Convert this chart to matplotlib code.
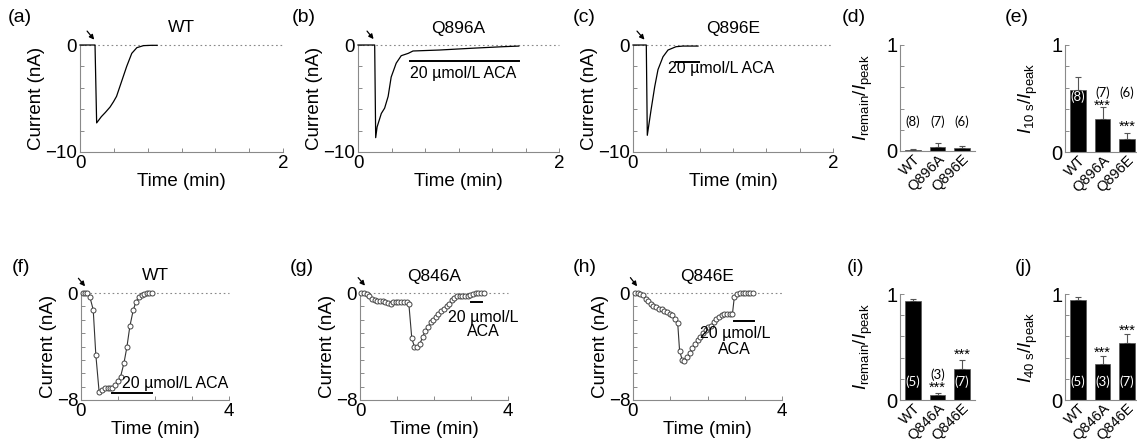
import matplotlib.pyplot as plt

plt.rcParams['font.family'] = ['Liberation Sans', 'DejaVu Sans']
plt.rcParams['mathtext.fontset'] = 'custom'
plt.rcParams['mathtext.rm'] = 'Liberation Sans'
plt.rcParams['mathtext.it'] = 'Liberation Sans:italic'

# ---- data ----
# top row: continuous current traces (min, nA)
a_t = [0.0, 0.148, 0.164, 0.21, 0.25, 0.296, 0.33, 0.36, 0.41, 0.46, 0.51, 0.56, 0.625, 0.70, 0.76]
a_i = [0.0, 0.0, -7.28, -6.7, -6.3, -5.8, -5.3, -4.8, -3.4, -2.0, -0.78, -0.25, -0.06, -0.03, -0.03]

b_t = [0.0, 0.166, 0.176, 0.19, 0.232, 0.265, 0.30, 0.33, 0.38, 0.43, 0.50, 0.547, 0.81, 1.14, 1.44, 1.6]
b_i = [0.0, 0.0, -8.66, -7.66, -6.4, -5.9, -4.8, -3.0, -1.7, -1.0, -0.78, -0.56, -0.47, -0.3, -0.16, -0.1]

c_t = [0.0, 0.133, 0.143, 0.18, 0.217, 0.25, 0.30, 0.35, 0.43, 0.50, 0.65]
c_i = [0.0, 0.0, -8.44, -6.1, -3.9, -2.3, -1.1, -0.47, -0.16, -0.1, -0.1]

# bottom row: sampled currents (min, nA)
f_t = [0.045, 0.11, 0.17, 0.24, 0.33, 0.40, 0.49, 0.58, 0.65, 0.72, 0.79, 0.85, 0.93,
       1.00, 1.07, 1.16, 1.24, 1.32, 1.41, 1.48, 1.56, 1.64, 1.71, 1.78, 1.85, 1.92]
f_i = [0, 0, 0, -0.3, -1.25, -4.6, -7.4, -7.25, -7.1, -7.1, -7.1, -7.08, -6.9,
       -6.6, -6.25, -5.25, -4.05, -2.5, -1.3, -0.7, -0.3, -0.12, -0.05, 0, 0, 0]

g_t = [0.03, 0.11, 0.18, 0.25, 0.32, 0.40, 0.47, 0.54, 0.61, 0.68, 0.76, 0.83, 0.90,
       0.97, 1.04, 1.11, 1.19, 1.26, 1.32, 1.40, 1.47, 1.55, 1.62, 1.69, 1.76, 1.83,
       1.91, 1.98, 2.05, 2.12, 2.19, 2.27, 2.34, 2.41, 2.48, 2.55, 2.62, 2.70, 2.77,
       2.84, 2.91, 2.98, 3.06, 3.13, 3.20, 3.27, 3.34]
g_i = [0, 0, -0.05, -0.25, -0.43, -0.55, -0.6, -0.6, -0.6, -0.68, -0.75, -0.8, -0.7,
       -0.7, -0.7, -0.68, -0.65, -0.7, -0.8, -3.4, -4.0, -4.05, -3.8, -3.3, -2.85, -2.55,
       -2.2, -2.0, -1.78, -1.55, -1.35, -1.18, -1.0, -0.8, -0.55, -0.35, -0.25, -0.2, -0.2,
       -0.2, -0.2, -0.18, -0.05, 0, 0, 0, 0]

h_t = [0.06, 0.125, 0.2, 0.27, 0.34, 0.41, 0.48, 0.55, 0.63, 0.70, 0.77, 0.84, 0.91,
       0.98, 1.06, 1.13, 1.2, 1.25, 1.32, 1.38, 1.45, 1.52, 1.59, 1.66, 1.74, 1.81,
       1.88, 1.95, 2.02, 2.09, 2.17, 2.24, 2.31, 2.38, 2.45, 2.52, 2.6, 2.67, 2.72,
       2.79, 2.86, 2.94, 3.0, 3.08, 3.15, 3.22]
h_i = [0, 0, -0.05, -0.18, -0.43, -0.6, -0.8, -0.95, -1.05, -1.18, -1.23, -1.35, -1.43,
       -1.55, -1.68, -1.93, -2.25, -4.3, -5.0, -5.05, -4.8, -4.5, -4.1, -3.85, -3.55, -3.3,
       -3.0, -2.75, -2.55, -2.43, -2.18, -1.93, -1.8, -1.68, -1.6, -1.55, -1.55, -1.55, -0.3,
       -0.05, 0, 0, 0, 0, 0, 0]

# ACA application bars (start, end, level)
b_aca = [0.52, 1.6, -1.5]
c_aca = [0.43, 0.66, -1.6]
f_aca = [0.85, 1.93, -7.5]
g_aca = [3.0, 3.3, -0.68]
h_aca = [2.72, 3.24, -2.1]

# bar summaries
grp_896 = ['WT', 'Q896A', 'Q896E']
grp_846 = ['WT', 'Q846A', 'Q846E']
d_val = [0.01, 0.035, 0.025]
d_err = [0.01, 0.04, 0.018]
d_n = ['(8)', '(7)', '(6)']
e_val = [0.575, 0.31, 0.125]
e_err = [0.13, 0.11, 0.055]
e_n = ['(8)', '(7)', '(6)']
i_val = [0.93, 0.045, 0.29]
i_err = [0.02, 0.02, 0.09]
i_n = ['(5)', '(3)', '(7)']
j_val = [0.94, 0.34, 0.54]
j_err = [0.03, 0.075, 0.08]
j_n = ['(5)', '(3)', '(7)']

W, H = 1137, 445
fig = plt.figure(figsize=(W / 100, H / 100), dpi=100)
AXC = '#8a8a8a'


def rect(x0, x1, ytop, ybot):
    return [x0 / W, 1 - ybot / H, (x1 - x0) / W, (ybot - ytop) / H]


def style(ax):
    for s in ['top', 'right']:
        ax.spines[s].set_visible(False)
    for s in ['left', 'bottom']:
        ax.spines[s].set_color(AXC)
        ax.spines[s].set_linewidth(0.8)
    ax.tick_params(direction='in', length=3, width=0.7, color=AXC,
                   labelsize=13.5, pad=2)


def trace_panel(r, t, cur, xmax, ymin, xticks, yticks, title, aca, arrow,
                circles=False):
    ax = fig.add_axes(r)
    style(ax)
    ax.set_xlim(0, xmax)
    ax.set_ylim(ymin, 0)
    ax.plot([0, xmax], [0, 0], color='#888888', lw=0.8, ls=(0, (1.5, 2.5)),
            clip_on=False, zorder=1)
    if circles:
        ax.plot(t, cur, '-o', color='#333333', lw=0.8, ms=3.6, mfc='white',
                mec='#444444', mew=0.7, clip_on=False, zorder=3)
    else:
        ax.plot(t, cur, color='black', lw=0.9, clip_on=False, zorder=3)
    ax.set_xticks(xticks)
    ax.set_xticklabels([str(int(xticks[0]))] + [''] * (len(xticks) - 2)
                       + [str(int(round(xticks[-1])))])
    ax.set_yticks(yticks)
    ax.set_yticklabels([f'\u2212{abs(int(yticks[0]))}'] + [''] * (len(yticks) - 2) + ['0'])
    ax.set_xlabel('Time (min)', fontsize=13.5, labelpad=1)
    ax.set_ylabel('Current (nA)', fontsize=13.5, labelpad=0)
    ax.set_title(title, fontsize=12.5, pad=9)
    if aca is not None:
        ax.plot(aca[:2], [aca[2], aca[2]], color='black', lw=1.4, clip_on=False)
    ax.annotate('', xy=arrow[2:], xytext=arrow[:2], annotation_clip=False,
                arrowprops=dict(arrowstyle='-|>', color='black', lw=0.9,
                                mutation_scale=7, shrinkA=0, shrinkB=0))
    return ax


top_x = [0, 1 / 3, 2 / 3, 1, 4 / 3, 5 / 3, 2]
top_y = [-10, -8, -6, -4, -2, 0]
bot_x = [0, 1, 2, 3, 4]
bot_y = [-8, -7, -6, -5, -4, -3, -2, -1, 0]

trace_panel(rect(80, 283, 45, 152), a_t, a_i, 2, -10, top_x, top_y, 'WT', None,
            [0.07, 1.3, 0.14, 0.5])
ax = trace_panel(rect(358, 559, 45, 152), b_t, b_i, 2, -10, top_x, top_y, 'Q896A', b_aca,
                 [0.09, 1.3, 0.155, 0.55])
ax.text(0.52, -2.7, '20 \u00b5mol/L ACA', fontsize=11.5, ha='left', va='center')
ax = trace_panel(rect(633, 833, 45, 152), c_t, c_i, 2, -10, top_x, top_y, 'Q896E', c_aca,
                 [0.04, 1.3, 0.115, 0.5])
ax.text(0.35, -2.2, '20 \u00b5mol/L ACA', fontsize=11.5, ha='left', va='center')

ax = trace_panel(rect(81, 229, 293, 400), f_t, f_i, 4, -8, bot_x, bot_y, 'WT', f_aca,
                 [-0.07, 1.1, 0.11, 0.5], circles=True)
ax.text(1.1, -6.75, '20 \u00b5mol/L ACA', fontsize=11.5, ha='left', va='center')
ax = trace_panel(rect(360, 508, 293, 400), g_t, g_i, 4, -8, bot_x, bot_y, 'Q846A', g_aca,
                 [-0.05, 1.15, 0.135, 0.55], circles=True)
ax.text(3.33, -1.85, '20 \u00b5mol/L', fontsize=11.5, ha='center', va='center')
ax.text(3.33, -2.9, 'ACA', fontsize=11.5, ha='center', va='center')
ax = trace_panel(rect(633, 782, 293, 400), h_t, h_i, 4, -8, bot_x, bot_y, 'Q846E', h_aca,
                 [-0.07, 1.15, 0.11, 0.5], circles=True)
ax.text(2.75, -3.0, '20 \u00b5mol/L', fontsize=11.5, ha='center', va='center')
ax.text(2.72, -4.2, 'ACA', fontsize=11.5, ha='center', va='center')


def bar_panel(r, groups, vals, errs, ylab, labels):
    ax = fig.add_axes(r)
    style(ax)
    x = list(range(len(groups)))
    ax.bar(x, vals, width=0.64, color='black', edgecolor='#555555', lw=0.5, zorder=2)
    ax.errorbar(x, vals, yerr=[[0] * len(errs), errs], fmt='none', ecolor='#555555',
                elinewidth=0.8, capsize=2.5, capthick=0.8, zorder=1)
    ax.set_xlim(-0.54, 2.54)
    ax.set_ylim(0, 1)
    ax.set_yticks([0, 0.2, 0.4, 0.6, 0.8, 1])
    ax.set_yticklabels(['0', '', '', '', '', '1'])
    ax.tick_params(axis='y', labelsize=14.5)
    ax.set_xticks(x)
    ax.set_xticklabels(groups, rotation=45, ha='right', rotation_mode='anchor',
                       fontsize=10.5)
    ax.tick_params(axis='x', length=0, pad=1)
    ax.set_ylabel(ylab, fontsize=13.5)
    ax.yaxis.set_label_coords(-0.33, 0.5)
    for xi, y, s, c in labels:
        if s.startswith('('):
            ax.text(xi, y, s, ha='center', va='center', color=c, fontsize=9.5,
                    family=['Lato', 'DejaVu Sans'])
        else:
            ax.text(xi, y, s, ha='center', va='top', color=c, fontsize=10.5)
    return ax


lab_remain = r'$I_{\mathrm{remain}}/I_{\mathrm{peak}}$'
bar_panel(rect(900, 975, 45, 151), grp_896, d_val, d_err, lab_remain,
          [(k, 0.28, d_n[k], 'black') for k in range(3)])
bar_panel(rect(1065, 1140, 45, 152), grp_896, e_val, e_err,
          r'$I_{\mathrm{10\ s}}/I_{\mathrm{peak}}$',
          [(0, 0.52, e_n[0], 'white'), (1, 0.555, e_n[1], 'black'),
           (1, 0.50, '***', 'black'), (2, 0.555, e_n[2], 'black'),
           (2, 0.30, '***', 'black')])
bar_panel(rect(900, 975, 294, 400), grp_846, i_val, i_err, lab_remain,
          [(0, 0.17, i_n[0], 'white'), (1, 0.24, i_n[1], 'black'),
           (1, 0.18, '***', 'black'), (2, 0.17, i_n[2], 'white'),
           (2, 0.49, '***', 'black')])
bar_panel(rect(1065, 1140, 294, 400), grp_846, j_val, j_err,
          r'$I_{\mathrm{40\ s}}/I_{\mathrm{peak}}$',
          [(0, 0.17, j_n[0], 'white'), (1, 0.17, j_n[1], 'white'),
           (1, 0.51, '***', 'black'), (2, 0.17, j_n[2], 'white'),
           (2, 0.72, '***', 'black')])

# panel letters
for s, x, y in [('(a)', 8, 17), ('(b)', 292, 17), ('(c)', 573, 17), ('(d)', 842, 17),
                ('(e)', 1005, 17), ('(f)', 12, 267), ('(g)', 290, 267), ('(h)', 573, 267),
                ('(i)', 847, 267), ('(j)', 1015, 267)]:
    fig.text(x / W, 1 - y / H, s, fontsize=14, ha='left', va='center')

fig.savefig('out.png', dpi=100)
